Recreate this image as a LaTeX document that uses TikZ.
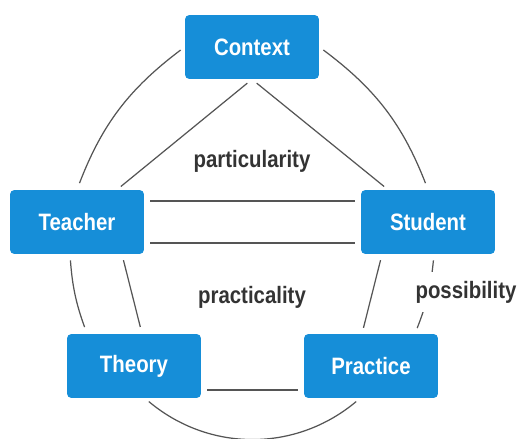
\documentclass[tikz,border=0pt]{standalone}
\usepackage{fontspec}
\setmainfont{Liberation Sans}[FakeStretch=0.86]
\definecolor{boxblue}{RGB}{22,142,216}
\definecolor{linegray}{RGB}{85,85,85}
\definecolor{labelgray}{RGB}{51,51,51}
\tikzset{
  box/.style={fill=boxblue,text=white,rounded corners=2.5pt,
    font=\fontsize{13.5}{16}\selectfont\bfseries,
    minimum width=2.68cm,minimum height=1.28cm,inner sep=0pt},
  link/.style={draw=linegray,line width=0.7pt},
  lbl/.style={text=labelgray,font=\fontsize{13.5}{16}\selectfont\bfseries}
}
\begin{document}
\begin{tikzpicture}[x=0.02cm,y=-0.02cm]
    \useasboundingbox (0,0) rectangle (518,439);
    \path (252, 47) node [box] (context) {Context};
    \path ( 77,222) node [box] (teacher) {Teacher};
    \path (428,222) node [box] (student) {Student};
    \path (134,366) node [box] (theory) {Theory};
    \path (371,366) node [box] (practice) {Practice};
    \draw [link,shorten <=0.1cm,shorten >=0.14cm]
	(context.west) to [bend right=16] (teacher.north);
    \draw [link,shorten <=0.1cm,shorten >=0.14cm]
	(context.east) to [bend left=16] (student.north);
    \draw [link,shorten <=0.12cm,shorten >=0.1cm]
	(context.south) -- ([xshift=0.8cm]teacher.north);
    \draw [link,shorten <=0.12cm,shorten >=0.1cm]
	(context.south) -- ([xshift=-0.8cm]student.north);
    \draw [link,shorten <=0.12cm,shorten >=0.12cm]
	([yshift=0.42cm]teacher.east) -- ([yshift=0.42cm]student.west);
    \draw [link,shorten <=0.12cm,shorten >=0.12cm]
	([yshift=-0.42cm]teacher.east) -- ([yshift=-0.42cm]student.west);
    \draw [link,shorten <=0.12cm,shorten >=0.14cm]
	([xshift=-0.14cm]teacher.south) to [bend right=8] ([xshift=-0.94cm]theory.north);
    \draw [link,shorten <=0.12cm,shorten >=0.14cm]
	([xshift=0.9cm]teacher.south) -- ([xshift=0.16cm]theory.north);
    \draw [link,shorten <=0.12cm,shorten >=0.12cm]
	([xshift=-0.92cm]student.south) -- ([xshift=-0.18cm]practice.north);
    \draw [link,shorten <=0.12cm,shorten >=0.12cm]
	([xshift=0.12cm]student.south) to [bend left=8] ([xshift=0.88cm]practice.north);
    \draw [link,shorten <=0.12cm,shorten >=0.12cm]
	([yshift=-0.48cm]theory.east) -- ([yshift=-0.48cm]practice.west);
    \draw [link,shorten <=0.1cm,shorten >=0.1cm]
	([xshift=0.22cm]theory.south) to [bend right=40] ([xshift=-0.22cm]practice.south);
    \path (252,161) node [lbl] (particularity) {particularity};
    \path (252,297) node [lbl] (practicality) {practicality};
    \path (466,292) node [lbl,fill=white,inner xsep=1pt,inner ysep=0.18cm] (possibility) {possibility};
\end{tikzpicture}
\end{document}
